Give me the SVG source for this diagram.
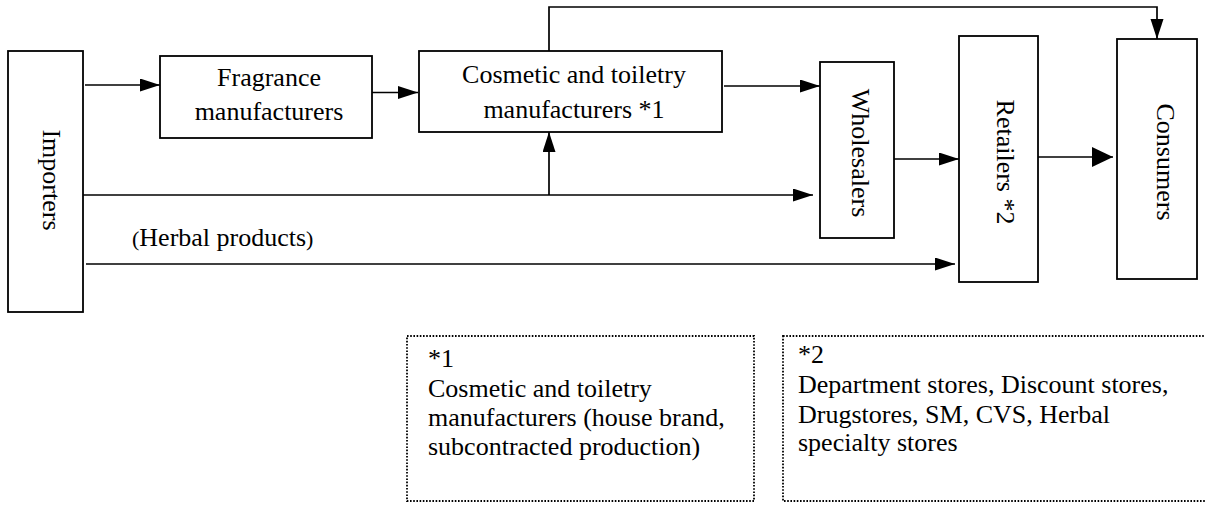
<svg xmlns="http://www.w3.org/2000/svg" width="1205" height="513" viewBox="0 0 1205 513">
  <style>
    .box { fill: #fff; stroke: #000; stroke-width: 1.8; }
    .note { fill: #fff; stroke: #000; stroke-width: 1.8; stroke-dasharray: 1.6 1.6; }
    .t { font-family: "Liberation Serif", "Times New Roman", serif; font-size: 26px; fill: #000; }
    .c { text-anchor: middle; }
    .ln { fill: none; stroke: #000; stroke-width: 1.7; }
  </style>
  <defs>
    <marker id="ah" markerUnits="userSpaceOnUse" markerWidth="20" markerHeight="14" refX="20" refY="6.5" orient="auto">
      <path d="M0,0 L20,6.5 L0,13 z" fill="#000"/>
    </marker>
    <marker id="ahBig" markerUnits="userSpaceOnUse" markerWidth="22" markerHeight="20" refX="21" refY="10" orient="auto">
      <path d="M0,0 L21,10 L0,20 z" fill="#000"/>
    </marker>
  </defs>

  <g id="connectors">
    <line class="ln" x1="85" y1="85" x2="160" y2="85" marker-end="url(#ah)"/>
    <line class="ln" x1="372" y1="92.5" x2="418" y2="92.5" marker-end="url(#ah)"/>
    <line class="ln" x1="724" y1="86" x2="820" y2="86" marker-end="url(#ah)"/>
    <line class="ln" x1="83" y1="195" x2="813" y2="195" marker-end="url(#ah)"/>
    <line class="ln" x1="549" y1="195" x2="549" y2="132" marker-end="url(#ah)"/>
    <line class="ln" x1="86" y1="264" x2="955" y2="264" marker-end="url(#ah)"/>
    <line class="ln" x1="894" y1="159" x2="959" y2="159" marker-end="url(#ah)"/>
    <line class="ln" x1="1035" y1="157" x2="1113" y2="157" marker-end="url(#ahBig)"/>
    <polyline class="ln" points="549,51 549,7 1157,7 1157,39" marker-end="url(#ah)"/>
  </g>

  <g id="importers">
    <rect class="box" x="8" y="51" width="75" height="261"/>
    <text class="t c" transform="translate(43,180) rotate(90)">Importers</text>
  </g>

  <g id="fragrance">
    <rect class="box" x="160" y="56" width="212" height="82"/>
    <text class="t c" x="269" y="86">Fragrance</text>
    <text class="t c" x="269" y="120">manufacturers</text>
  </g>

  <g id="cosmetic">
    <rect class="box" x="419" y="51" width="303" height="81"/>
    <text class="t c" x="574" y="83">Cosmetic and toiletry</text>
    <text class="t c" x="574" y="118">manufacturers *1</text>
  </g>

  <g id="wholesalers">
    <rect class="box" x="820" y="62" width="74" height="176"/>
    <text class="t c" transform="translate(852,153) rotate(90)">Wholesalers</text>
  </g>

  <g id="retailers">
    <rect class="box" x="959" y="36" width="79" height="246"/>
    <text class="t c" transform="translate(997,162) rotate(90)">Retailers *2</text>
  </g>

  <g id="consumers">
    <rect class="box" x="1117" y="39" width="80" height="240"/>
    <text class="t c" transform="translate(1157,162) rotate(90)">Consumers</text>
  </g>

  <g id="herbal-label">
    <text class="t" x="132" y="246"><tspan font-size="22">(</tspan>Herbal products<tspan font-size="22">)</tspan></text>
  </g>

  <g id="note1">
    <rect class="note" x="407" y="336" width="347" height="165"/>
    <text class="t" x="428" y="367">*1</text>
    <text class="t" x="428" y="397">Cosmetic and toiletry</text>
    <text class="t" x="428" y="426">manufacturers (house brand,</text>
    <text class="t" x="428" y="455">subcontracted production)</text>
  </g>

  <g id="note2">
    <rect class="note" x="783" y="336" width="426" height="165"/>
    <text class="t" x="798" y="363">*2</text>
    <text class="t" x="798" y="393">Department stores, Discount stores,</text>
    <text class="t" x="798" y="423">Drugstores, SM, CVS, Herbal</text>
    <text class="t" x="798" y="451">specialty stores</text>
  </g>
</svg>
